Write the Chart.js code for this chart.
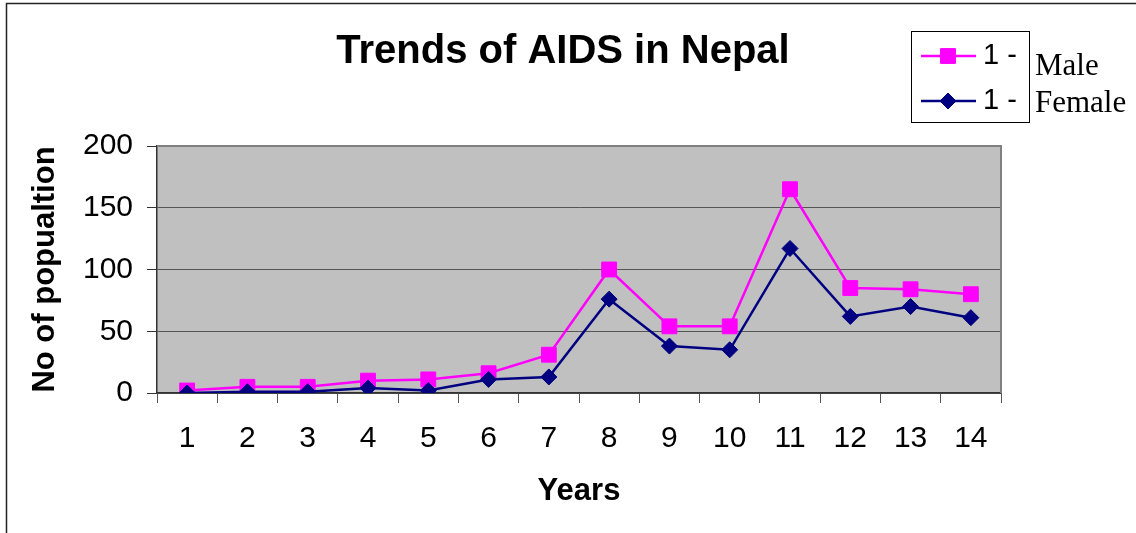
<!DOCTYPE html>
<html>
<head>
<meta charset="utf-8">
<title>Trends of AIDS in Nepal</title>
<script src="https://cdn.jsdelivr.net/npm/chart.js@4.4.1/dist/chart.umd.min.js"></script>
<style>
  html, body { margin: 0; padding: 0; background: #fff; }
  #wrap { width: 1136px; height: 533px; position: relative; }
</style>
</head>
<body>
<div id="wrap"><canvas id="chart" width="1136" height="533"></canvas></div>
<script>
// --- datos ---
const years = ['1','2','3','4','5','6','7','8','9','10','11','12','13','14'];
const male   = [2, 5, 5, 10, 11, 16, 31, 100, 54, 54, 165, 85, 84, 80];
const female = [0, 1, 1, 4, 2, 11, 13, 76, 38, 35, 117, 62, 70, 61];
const legendPrefix = ['1 -', '1 -'];
const legendNames = ['Male', 'Female'];
const chartTitle = 'Trends of AIDS in Nepal';

const MAGENTA = '#FF00FF';
const NAVY = '#000080';

// fondo gris del area, marco exterior y borde superior/derecho
const framePlugin = {
  id: 'frame',
  beforeDraw(chart) {
    const { ctx, chartArea: a } = chart;
    ctx.save();
    ctx.fillStyle = '#fff';
    ctx.fillRect(0, 0, chart.width, chart.height);
    ctx.strokeStyle = '#222';
    ctx.lineWidth = 1.5;
    ctx.strokeRect(6.5, 3.5, chart.width + 20, chart.height + 20);
    ctx.fillStyle = '#C0C0C0';
    ctx.fillRect(a.left, a.top, a.right - a.left, a.bottom - a.top);
    ctx.restore();
  },
  beforeDatasetsDraw(chart) {
    const { ctx, chartArea: a } = chart;
    ctx.save();
    ctx.strokeStyle = '#808080';
    ctx.lineWidth = 2;
    ctx.beginPath();
    ctx.moveTo(a.left, a.top);
    ctx.lineTo(a.right, a.top);
    ctx.lineTo(a.right, a.bottom);
    ctx.stroke();
    ctx.restore();
  }
};

// titulo y leyenda a mano (como en el original de Excel)
const legendPlugin = {
  id: 'customLegend',
  afterDraw(chart) {
    const { ctx } = chart;
    ctx.save();
    ctx.fillStyle = '#000';
    ctx.font = 'bold 40px "Liberation Sans", Arial, sans-serif';
    ctx.textAlign = 'center';
    ctx.textBaseline = 'alphabetic';
    ctx.fillText(chartTitle, 563, 63);

    // caja
    ctx.strokeStyle = '#000';
    ctx.lineWidth = 1;
    ctx.strokeRect(911.5, 31.5, 118, 91);

    const rows = [56, 101];
    const nameBase = [75, 112]; // los nombres quedan fuera de la caja, algo desfasados
    chart.data.datasets.forEach((ds, i) => {
      const y = rows[i];
      ctx.strokeStyle = ds.borderColor;
      ctx.lineWidth = ds.borderWidth;
      ctx.beginPath();
      ctx.moveTo(921, y);
      ctx.lineTo(976, y);
      ctx.stroke();
      ctx.fillStyle = ds.pointBackgroundColor;
      ctx.strokeStyle = ds.pointBorderColor;
      ctx.lineWidth = 1;
      Chart.helpers.drawPoint(ctx, {
        pointStyle: ds.pointStyle, radius: ds.pointRadius, borderWidth: 1
      }, 948, y);
      ctx.fillStyle = '#000';
      ctx.textAlign = 'left';
      ctx.textBaseline = 'middle';
      ctx.font = '29px "Liberation Sans", Arial, sans-serif';
      ctx.fillText(legendPrefix[i], 983, y);
      ctx.textBaseline = 'alphabetic';
      ctx.font = '31px "Liberation Serif", "Times New Roman", serif';
      ctx.fillText(legendNames[i], 1035, nameBase[i]);
    });
    ctx.restore();
  }
};

new Chart(document.getElementById('chart'), {
  type: 'line',
  data: {
    labels: years,
    datasets: [
      {
        label: legendNames[0],
        data: male,
        borderColor: MAGENTA,
        borderWidth: 2.5,
        pointStyle: 'rect',
        pointRadius: 10.5,
        pointBackgroundColor: MAGENTA,
        pointBorderColor: MAGENTA,
        pointBorderWidth: 1,
        tension: 0,
        order: 1
      },
      {
        label: legendNames[1],
        data: female,
        borderColor: NAVY,
        borderWidth: 2.5,
        pointStyle: 'rectRot',
        pointRadius: 8,
        pointBackgroundColor: NAVY,
        pointBorderColor: NAVY,
        pointBorderWidth: 1,
        tension: 0,
        order: 0
      }
    ]
  },
  options: {
    responsive: false,
    animation: false,
    events: [],
    layout: { padding: { top: 146, right: 135, left: 0, bottom: 0 } },
    plugins: {
      legend: { display: false },
      title: { display: false },
      tooltip: { enabled: false }
    },
    scales: {
      x: {
        offset: true,
        grid: { offset: true, drawOnChartArea: false, drawTicks: true, tickLength: 10, color: '#555', lineWidth: 1 },
        border: { color: '#333', width: 1.5 },
        ticks: { color: '#000', padding: 18, maxRotation: 0, font: { family: '"Liberation Sans", Arial, sans-serif', size: 30 } },
        title: {
          display: true, text: 'Years', color: '#000',
          padding: { top: 0, bottom: 23 },
          font: { family: '"Liberation Sans", Arial, sans-serif', size: 31, weight: 'bold' }
        },
        afterFit(scale) { scale.height = 140; }
      },
      y: {
        min: 0, max: 200,
        ticks: { stepSize: 50, color: '#000', padding: 14, font: { family: '"Liberation Sans", Arial, sans-serif', size: 30 } },
        grid: { color: '#555', lineWidth: 1, tickLength: 10, tickColor: '#333' },
        border: { color: '#333', width: 1.5 },
        title: {
          display: true, text: 'No of popualtion', color: '#000',
          padding: { top: 27, bottom: 0 },
          font: { family: '"Liberation Sans", Arial, sans-serif', size: 31, weight: 'bold' }
        },
        afterFit(scale) { scale.width = 157; }
      }
    }
  },
  plugins: [framePlugin, legendPlugin]
});
</script>
</body>
</html>
